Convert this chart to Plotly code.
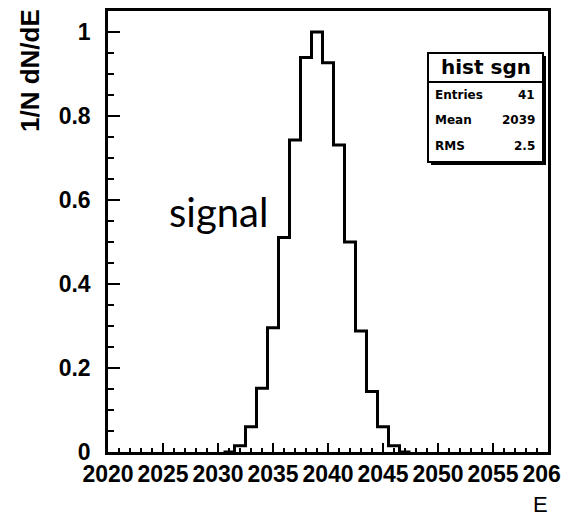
import plotly.graph_objects as go

# ---- data ----
bin_centers = [2031, 2032, 2033, 2034, 2035, 2036, 2037, 2038, 2039,
               2040, 2041, 2042, 2043, 2044, 2045, 2046, 2047]
bin_values = [0.0, 0.015, 0.06, 0.152, 0.296, 0.511, 0.743, 0.939, 1.0,
              0.927, 0.731, 0.50, 0.288, 0.144, 0.06, 0.015, 0.0]
bin_width = 1.0
x_ticks = [2020, 2025, 2030, 2035, 2040, 2045, 2050, 2055, 2060]
y_ticks = [0, 0.2, 0.4, 0.6, 0.8, 1.0]
stat_title = "hist sgn"
stat_labels = ["Entries", "Mean", "RMS"]
stat_values = ["41", "2039", "2.5"]

# ---- geometry ----
W, H = 561, 523
L, R, T, B = 108, 13, 11, 71
PW, PH = W - L - R, H - T - B


def px(xp):
    return (xp - L) / PW


def py(yp):
    return (H - B - yp) / PH


# step outline
xs = [c - bin_width / 2 for c in bin_centers] + [bin_centers[-1] + bin_width / 2]
ys = bin_values + [bin_values[-1]]

fig = go.Figure()
fig.add_trace(go.Scatter(x=xs, y=ys, mode="lines", line=dict(color="black", width=3, shape="hv"),
                         hoverinfo="skip", showlegend=False))

tickfont = dict(family="Liberation Sans, Arial, sans-serif", size=23, color="black", weight="bold")

fig.update_layout(
    width=W, height=H,
    margin=dict(l=L, r=R, t=T, b=B, autoexpand=False),
    paper_bgcolor="white", plot_bgcolor="white",
    showlegend=False,
    xaxis=dict(range=[2020, 2060], tickvals=x_ticks, ticks="inside", ticklen=9, tickwidth=2,
               tickcolor="black", showline=True, linecolor="black", linewidth=2.5, mirror=True,
               showgrid=False, zeroline=False, tickfont=tickfont, automargin=False,
               ticklabeloverflow="allow",
               minor=dict(dtick=1, ticks="inside", ticklen=4, tickwidth=2, tickcolor="black", showgrid=False)),
    yaxis=dict(range=[0, 1.05], tickvals=y_ticks, ticks="inside", ticklen=12, tickwidth=2,
               tickcolor="black", showline=True, linecolor="black", linewidth=2.5, mirror=True,
               showgrid=False, zeroline=False, tickfont=tickfont, automargin=False,
               ticklabelstandoff=10, ticklabeloverflow="allow",
               minor=dict(dtick=0.05, ticks="inside", ticklen=6, tickwidth=2, tickcolor="black", showgrid=False)),
)

# stat box
bx0, bx1, by0, by1 = 428, 543, 53, 162
sep = 82
shapes = [
    dict(type="rect", xref="paper", yref="paper", x0=px(bx0 + 3), x1=px(bx1 + 3), y0=py(by1 + 3), y1=py(by0 + 3),
         fillcolor="black", line=dict(width=0)),
    dict(type="rect", xref="paper", yref="paper", x0=px(bx0), x1=px(bx1), y0=py(by1), y1=py(by0),
         fillcolor="white", line=dict(color="black", width=2)),
    dict(type="line", xref="paper", yref="paper", x0=px(bx0), x1=px(bx1), y0=py(sep), y1=py(sep),
         line=dict(color="black", width=2)),
]
fig.update_layout(shapes=shapes)

ann = []
ann.append(dict(text=stat_title, xref="paper", yref="paper", x=px((bx0 + bx1) / 2), y=py(67),
                xanchor="center", yanchor="middle", showarrow=False,
                font=dict(family="DejaVu Sans, sans-serif", size=20, color="black", weight="bold")))
row_y = [95, 120, 146]
for lab, val, ry in zip(stat_labels, stat_values, row_y):
    ann.append(dict(text=lab, xref="paper", yref="paper", x=px(433), y=py(ry), xanchor="left", yanchor="middle",
                    showarrow=False, font=dict(family="DejaVu Sans, sans-serif", size=12, color="black", weight="bold")))
    ann.append(dict(text=val, xref="paper", yref="paper", x=px(537), y=py(ry), xanchor="right", yanchor="middle",
                    showarrow=False, font=dict(family="DejaVu Sans, sans-serif", size=12, color="black", weight="bold")))

ann.append(dict(text="signal", xref="paper", yref="paper", x=px(218), y=py(212), xanchor="center", yanchor="middle",
                showarrow=False, font=dict(family="Lato, Noto Sans, sans-serif", size=40, color="black")))
ann.append(dict(text="1/N dN/dE", xref="paper", yref="paper", x=px(30), y=py(71), xanchor="center", yanchor="middle",
                textangle=-90, showarrow=False,
                font=dict(family="Liberation Sans, Arial, sans-serif", size=26, color="black", weight="bold")))
ann.append(dict(text="E", xref="paper", yref="paper", x=px(540), y=py(504), xanchor="center", yanchor="middle",
                showarrow=False, font=dict(family="Liberation Sans, Arial, sans-serif", size=22, color="black")))
fig.update_layout(annotations=ann)

fig.write_html("out.html", config={"displayModeBar": False},
               post_script="document.body.style.margin='0';document.body.style.overflow='hidden';")
